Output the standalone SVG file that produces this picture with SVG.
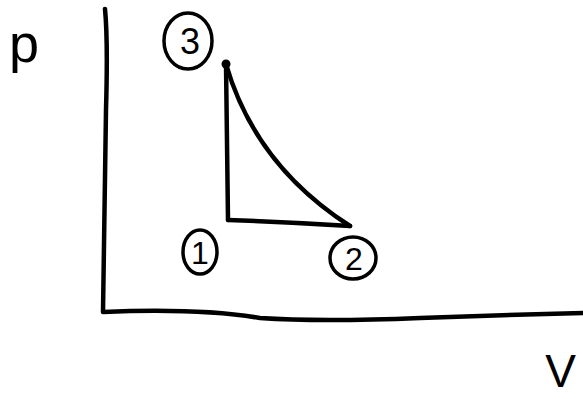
<svg xmlns="http://www.w3.org/2000/svg" width="583" height="399" viewBox="0 0 583 399">
<style>
.ln{fill:none;stroke:#000;stroke-width:4.5;stroke-linecap:round;stroke-linejoin:round}
.ring{fill:none;stroke:#000;stroke-width:3.5}
.lbl{font-family:"Liberation Sans",Arial,sans-serif;fill:#000;text-anchor:middle}
</style>
<rect width="583" height="399" fill="#fff"/>
<g id="axes">
<path class="ln" d="M105,9 Q108,40 106,110 Q104,220 103,312 Q200,308 260,318 Q320,322 420,318 Q500,315 583,313"/>
<text class="lbl" x="24" y="62" font-size="54">p</text>
<text class="lbl" x="576" y="387" font-size="46" style="text-anchor:end">V</text>
</g>
<g id="connectors">
<path class="ln" d="M226,64 L228,220"/>
<path class="ln" d="M226,64 Q255,165 350,226"/>
<path class="ln" d="M228,220 Q290,222 350,226"/>
<circle cx="226" cy="64" r="4.5" fill="#000"/>
</g>
<g id="n3">
<ellipse class="ring" cx="188" cy="41" rx="24" ry="28"/>
<text class="lbl" x="190" y="54" font-size="36">3</text>
</g>
<g id="n1">
<ellipse class="ring" cx="200" cy="252" rx="17" ry="22"/>
<text class="lbl" x="200" y="264" font-size="32">1</text>
</g>
<g id="n2">
<ellipse class="ring" cx="353" cy="258" rx="23" ry="21"/>
<text class="lbl" x="354" y="270" font-size="32">2</text>
</g>
</svg>
